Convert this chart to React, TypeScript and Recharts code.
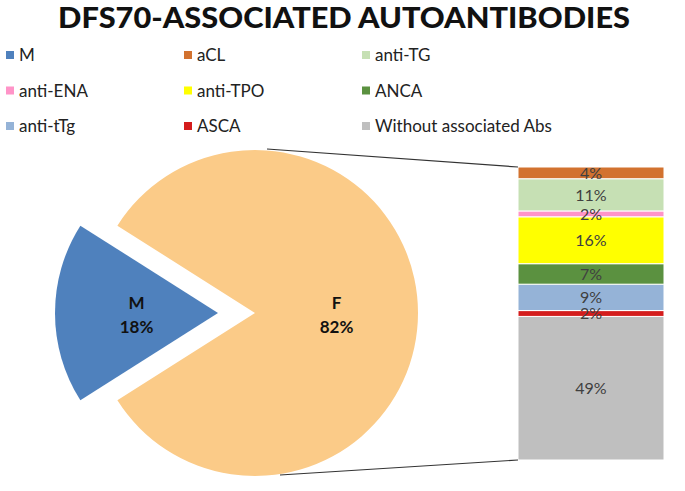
import React from "react";
import { PieChart, Pie, Cell, BarChart, Bar, XAxis, YAxis, LabelList } from "recharts";

const sexNames = ["M", "F"];
const sexValues = [18, 82];
const sexColors = ["#4f81bd", "#fbcb88"];

const abNames = ["aCL", "anti-TG", "anti-ENA", "anti-TPO", "ANCA", "anti-tTg", "ASCA", "Without associated Abs"];
const abValues = [4, 11, 2, 16, 7, 9, 2, 49];
const abColors = ["#d2722f", "#c6e0b4", "#ff94c8", "#ffff00", "#5b9140", "#95b3d7", "#d41c1c", "#bfbfbf"];

const FONT = "Lato, 'Open Sans', sans-serif";
const W = 685;
const H = 491;

// pie geometry
const PIE_CX = 255;
const PIE_CY = 313;
const PIE_R = 163;
const EXPLODE = 37;
// bar box
const BAR_X = 518;
const BAR_Y = 167;
const BAR_W = 146;
const BAR_H = 293;
const BAR_PAD = 12;

const pieData = sexNames.map((name, i) => ({ name, value: sexValues[i] }));
const mShare = sexValues[0] / (sexValues[0] + sexValues[1]);
const startAngle = 180 - (360 * mShare) / 2;

const barRow: Record<string, number | string> = { name: "Abs" };
abValues.forEach((v, i) => {
  barRow[`k${i}`] = v;
});
const barData = [barRow];

const legendNames = [sexNames[0], ...abNames];
const legendColors = [sexColors[0], ...abColors];
const legendCols = [6, 184, 362];
const legendRows = [55, 90.5, 126];

const RAD = Math.PI / 180;

function pieLabel(showIndex: number) {
  return (props: any) => {
    if (props.index !== showIndex) return null;
    const r = props.outerRadius * 0.5;
    const x = props.cx + r * Math.cos(-props.midAngle * RAD);
    const y = props.cy + r * Math.sin(-props.midAngle * RAD);
    return (
      <text x={x} textAnchor="middle" fontFamily={FONT} fontWeight={700} fontSize={17} fill="#111">
        <tspan x={x} y={y - 4}>{props.name}</tspan>
        <tspan x={x} y={y + 20}>{`${props.value}%`}</tspan>
      </text>
    );
  };
}

function Legend() {
  return (
    <>
      {legendNames.map((name, i) => {
        const x = legendCols[i % 3];
        const y = legendRows[Math.floor(i / 3)];
        return (
          <g key={name}>
            <rect x={x} y={y - 4} width={8} height={8} fill={legendColors[i]} />
            <text x={x + 13} y={y + 6} fontFamily={FONT} fontSize={17} fill="#222">
              {name}
            </text>
          </g>
        );
      })}
    </>
  );
}

export default function App() {
  return (
    <div style={{ position: "absolute", left: 0, top: 0, width: W, height: H, background: "#fff", fontFamily: FONT }}>
      <div style={{ position: "absolute", left: 0, top: 0 }}>
        <PieChart width={W} height={H} margin={{ top: 0, right: 0, bottom: 0, left: 0 }}>
          <Pie
            data={pieData}
            dataKey="value"
            cx={PIE_CX - EXPLODE}
            cy={PIE_CY}
            outerRadius={PIE_R}
            startAngle={startAngle}
            endAngle={startAngle + 360}
            stroke="none"
            labelLine={false}
            label={pieLabel(0)}
            isAnimationActive={false}
          >
            {pieData.map((d, i) => (
              <Cell key={d.name} fill={i === 0 ? sexColors[0] : "none"} stroke="none" />
            ))}
          </Pie>
          <Pie
            data={pieData}
            dataKey="value"
            cx={PIE_CX}
            cy={PIE_CY}
            outerRadius={PIE_R}
            startAngle={startAngle}
            endAngle={startAngle + 360}
            stroke="none"
            labelLine={false}
            label={pieLabel(1)}
            isAnimationActive={false}
          >
            {pieData.map((d, i) => (
              <Cell key={d.name} fill={i === 1 ? sexColors[1] : "none"} stroke="none" />
            ))}
          </Pie>
        </PieChart>
      </div>
      <div style={{ position: "absolute", left: BAR_X, top: BAR_Y - BAR_PAD }}>
        <BarChart
          width={BAR_W}
          height={BAR_H + BAR_PAD}
          data={barData}
          margin={{ top: BAR_PAD, right: 0, bottom: 0, left: 0 }}
          barCategoryGap={0}
        >
          <XAxis dataKey="name" hide />
          <YAxis hide domain={[0, 100]} />
          {abValues
            .map((_, i) => i)
            .reverse()
            .map((i) => (
              <Bar key={i} dataKey={`k${i}`} stackId="a" fill={abColors[i]} stroke="#fff" strokeWidth={1} isAnimationActive={false}>
                <LabelList
                  dataKey={`k${i}`}
                  position="center"
                  formatter={(v: any) => `${v}%`}
                  fill="#404040"
                  fontSize={16}
                  fontFamily={FONT}
                />
              </Bar>
            ))}
        </BarChart>
      </div>
      <svg width={W} height={H} style={{ position: "absolute", left: 0, top: 0, pointerEvents: "none" }}>
        <text x={344} y={28} textAnchor="middle" fontFamily={FONT} fontWeight={900} fontSize={28} textLength={572} lengthAdjust="spacingAndGlyphs" fill="#111">
          DFS70-ASSOCIATED AUTOANTIBODIES
        </text>
        <Legend />
        <line x1={PIE_CX + 12} y1={PIE_CY - PIE_R - 1} x2={BAR_X} y2={BAR_Y} stroke="#333" strokeWidth={1.2} />
        <line x1={PIE_CX + 25} y1={PIE_CY + PIE_R - 1} x2={BAR_X} y2={BAR_Y + BAR_H} stroke="#333" strokeWidth={1.2} />
      </svg>
    </div>
  );
}
